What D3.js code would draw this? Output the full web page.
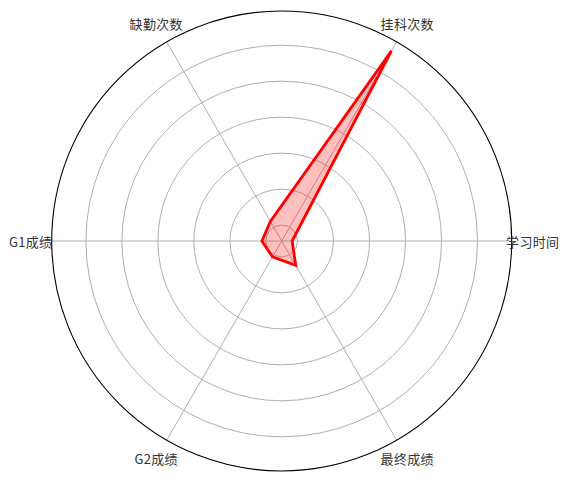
<!DOCTYPE html>
<html><head><meta charset="utf-8">
<script src="https://cdn.jsdelivr.net/npm/d3@7"></script>
<style>html,body{margin:0;padding:0;background:#fff;}svg{display:block;}</style>
</head><body>
<svg id="chart" width="569" height="482"></svg>
<script>
const categories = ["学习时间", "挂科次数", "缺勤次数", "G1成绩", "G2成绩", "最终成绩"];
const values = [-1.15, 4.66, -0.81, -0.89, -0.93, -0.66];
const radialTicks = [-1, 0, 1, 2, 3, 4];

const W = 569, H = 482;
const cx = 281.7, cy = 241, R = 230;
const svg = d3.select("#chart");
const g = svg.append("g").attr("transform", `translate(${cx},${cy})`);

const vmin = d3.min(values), vmax = d3.max(values);
const span = vmax - vmin;
const r = d3.scaleLinear().domain([vmin - 0.05 * span, vmax + 0.05 * span]).range([0, R]);
const angle = d3.scaleLinear().domain([0, categories.length]).range([0, 2 * Math.PI]);

// angle measured counter-clockwise from the right
const px = (a, rad) => rad * Math.cos(a);
const py = (a, rad) => -rad * Math.sin(a);

// radial grid rings
g.selectAll("circle.ring").data(radialTicks).join("circle")
  .attr("class", "ring").attr("r", d => r(d))
  .attr("fill", "none").attr("stroke", "#b0b0b0").attr("stroke-width", 1);

// angular grid lines
g.selectAll("line.spoke").data(categories).join("line")
  .attr("class", "spoke")
  .attr("x1", 0).attr("y1", 0)
  .attr("x2", (d, i) => px(angle(i), R)).attr("y2", (d, i) => py(angle(i), R))
  .attr("stroke", "#b0b0b0").attr("stroke-width", 1);

// data polygon
const pts = values.map((v, i) => [px(angle(i), r(v)), py(angle(i), r(v))]);
const line = d3.line().curve(d3.curveLinearClosed);
g.append("path").attr("d", line(pts))
  .attr("fill", "red").attr("fill-opacity", 0.25).attr("stroke", "none");
g.append("path").attr("d", line(pts))
  .attr("fill", "none").attr("stroke", "red").attr("stroke-width", 2.8)
  .attr("stroke-linejoin", "miter");

// outer spine
g.append("circle").attr("r", R).attr("fill", "none").attr("stroke", "#000").attr("stroke-width", 1.1);

// category labels
g.selectAll("text.lbl").data(categories).join("text")
  .attr("class", "lbl")
  .attr("x", (d, i) => px(angle(i), R + 21))
  .attr("y", (d, i) => py(angle(i), R + 21))
  .attr("text-anchor", "middle").attr("dominant-baseline", "central")
  .attr("font-family", "'Noto Sans CJK SC', 'DejaVu Sans', sans-serif")
  .attr("font-size", 13).attr("letter-spacing", 0.3).attr("fill", "#333")
  .text(d => d);
</script>
</body></html>
